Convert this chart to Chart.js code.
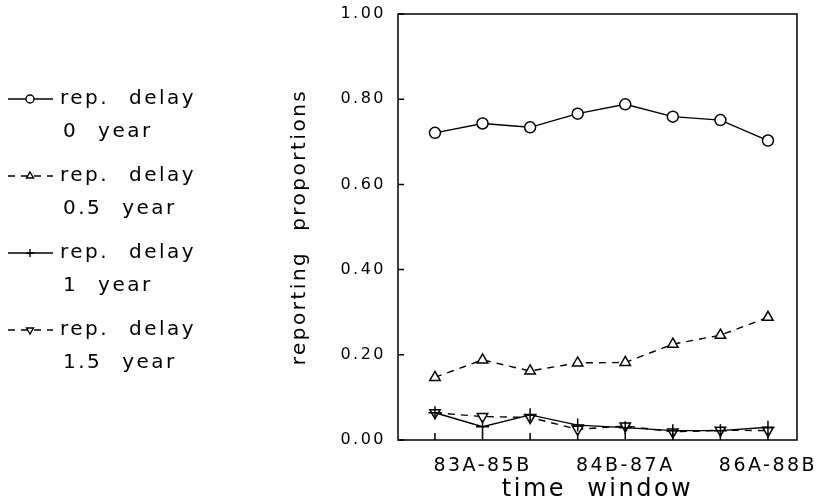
<!DOCTYPE html>
<html>
<head>
<meta charset="utf-8">
<script src="https://cdn.jsdelivr.net/npm/chart.js@4/dist/chart.umd.min.js"></script>
<style>
  html, body { margin: 0; padding: 0; background: #fff; }
  #wrap { width: 821px; height: 502px; }
</style>
</head>
<body>
<div id="wrap"><canvas id="chart"></canvas></div>
<script>
// time windows (x = 1..8), only every third one is labelled
const windowPos = [1, 2, 3, 4, 5, 6, 7, 8];
const windowLabels = ['', '83A-85B', '', '', '84B-87A', '', '', '86A-88B'];
const yTicks = [0, 0.2, 0.4, 0.6, 0.8, 1.0];

// reporting proportions per delay
const delay0 = [0.721, 0.743, 0.734, 0.766, 0.788, 0.759, 0.751, 0.703];
const delay05 = [0.147, 0.188, 0.162, 0.181, 0.182, 0.225, 0.246, 0.288];
const delay1 = [0.064, 0.031, 0.059, 0.035, 0.029, 0.022, 0.022, 0.030];
const delay15 = [0.064, 0.055, 0.053, 0.025, 0.033, 0.019, 0.023, 0.022];

const seriesNames = [
    ['rep. delay', '0 year'],
    ['rep. delay', '0.5 year'],
    ['rep. delay', '1 year'],
    ['rep. delay', '1.5 year']
];

const FONT = "'DejaVu Sans', sans-serif";

function makeSet(values, name, style, dashed, radius, rotation) {
    return {
        label: name.join(' '),
        legendText: name,
        data: values.map((v, i) => ({ x: windowPos[i], y: v })),
        borderColor: '#000',
        borderWidth: 1.4,
        borderDash: dashed ? [7, 6] : [],
        pointStyle: style,
        pointRadius: radius,
        pointRotation: rotation || 0,
        pointBorderWidth: 1.5,
        pointBorderColor: '#000',
        pointBackgroundColor: '#fff',
        fill: false,
        tension: 0
    };
}

function setSpacing(ctx) {
    ctx.letterSpacing = '2.5px';
    ctx.wordSpacing = '11px';
}

// frame, inward ticks and the two-line legend on the left
const framePlugin = {
    id: 'frame',
    beforeLayout(chart) { setSpacing(chart.ctx); },
    beforeDraw(chart) { setSpacing(chart.ctx); },
    afterDraw(chart) {
        const { ctx, chartArea: a, scales: { x, y } } = chart;
        ctx.save();
        ctx.strokeStyle = '#000';
        ctx.lineWidth = 1.5;
        ctx.setLineDash([]);
        ctx.strokeRect(a.left, a.top, a.width, a.height);
        ctx.beginPath();
        y.ticks.forEach(t => {
            const py = y.getPixelForValue(t.value);
            ctx.moveTo(a.left, py);
            ctx.lineTo(a.left + 6, py);
        });
        x.ticks.forEach(t => {
            const px = x.getPixelForValue(t.value);
            ctx.moveTo(px, a.bottom);
            ctx.lineTo(px, a.bottom - 7);
        });
        ctx.stroke();

        // legend
        const top = 99, step = 77;
        ctx.font = '20px ' + FONT;
        ctx.fillStyle = '#000';
        ctx.textBaseline = 'middle';
        ctx.textAlign = 'left';
        setSpacing(ctx);
        chart.data.datasets.forEach((ds, i) => {
            const ly = top + i * step;
            ctx.strokeStyle = '#000';
            ctx.lineWidth = 1.4;
            ctx.setLineDash(ds.borderDash);
            ctx.beginPath();
            ctx.moveTo(8, ly);
            ctx.lineTo(53, ly);
            ctx.stroke();
            ctx.setLineDash([]);
            ctx.fillStyle = '#fff';
            Chart.helpers.drawPoint(ctx, {
                pointStyle: ds.pointStyle,
                radius: 4,
                rotation: ds.pointRotation,
                borderWidth: 1.4
            }, 30, ly);
            ctx.fillStyle = '#000';
            ctx.fillText(ds.legendText[0], 60, ly);
            ctx.fillText(ds.legendText[1], 63, ly + 33);
        });
        ctx.restore();
    }
};

new Chart(document.getElementById('chart'), {
    type: 'line',
    data: {
        datasets: [
            makeSet(delay0, seriesNames[0], 'circle', false, 5.5),
            makeSet(delay05, seriesNames[1], 'triangle', true, 6),
            makeSet(delay1, seriesNames[2], 'cross', false, 6.5),
            makeSet(delay15, seriesNames[3], 'triangle', true, 6, 180)
        ]
    },
    options: {
        responsive: true,
        maintainAspectRatio: false,
        animation: false,
        layout: { padding: { left: 270, right: 24, top: 14, bottom: 0 } },
        plugins: {
            legend: { display: false },
            tooltip: { enabled: false }
        },
        scales: {
            x: {
                type: 'linear',
                min: 0.223,
                max: 8.61,
                afterBuildTicks: s => { s.ticks = windowPos.map(v => ({ value: v })); },
                afterFit: s => { s.height = 62; s.paddingLeft = 0; s.paddingRight = 0; },
                ticks: {
                    callback: v => windowLabels[windowPos.indexOf(v)] || '',
                    autoSkip: false,
                    maxRotation: 0,
                    padding: 15,
                    color: '#000',
                    font: { family: FONT, size: 19 }
                },
                grid: { display: false, drawTicks: false },
                border: { display: false },
                title: {
                    display: true,
                    text: 'time window',
                    color: '#000',
                    font: { family: FONT, size: 24 },
                    padding: { top: 0, bottom: -2 }
                }
            },
            y: {
                min: 0,
                max: 1,
                afterBuildTicks: s => { s.ticks = yTicks.map(v => ({ value: v })); },
                afterFit: s => { s.width = 128; s.paddingTop = 0; s.paddingBottom = 0; },
                ticks: {
                    callback: v => v.toFixed(2),
                    padding: 12,
                    color: '#000',
                    font: { family: FONT, size: 16 }
                },
                grid: { display: false, drawTicks: false },
                border: { display: false },
                title: {
                    display: true,
                    text: 'reporting proportions',
                    color: '#000',
                    font: { family: FONT, size: 20 },
                    padding: { top: 18, bottom: 0 }
                }
            }
        }
    },
    plugins: [framePlugin]
});
</script>
</body>
</html>
